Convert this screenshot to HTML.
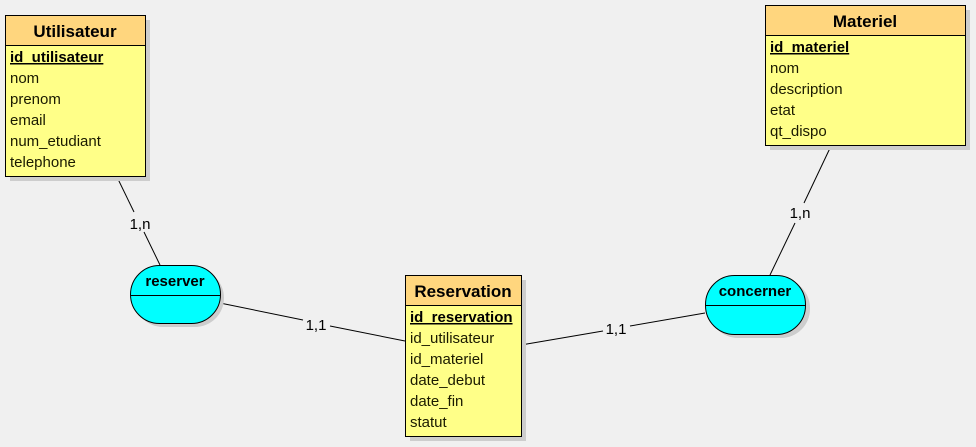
<!DOCTYPE html>
<html><head><style>
body{margin:0;background:#f0f0f0;}
svg{display:block;font-family:"Liberation Sans",sans-serif;}
.t{font-weight:bold;font-size:17px;text-anchor:middle;fill:#000}
.a{font-size:15px;fill:#1a1a00}
.k{font-size:15px;font-weight:bold;text-decoration:underline;fill:#000}
.l{font-size:15px;fill:#000;text-anchor:middle}
.r{font-weight:bold;font-size:15px;text-anchor:middle;fill:#000}
</style></head><body>
<svg width="976" height="447" viewBox="0 0 976 447">
<rect width="976" height="447" fill="#f0f0f0"/>
<g stroke="#000" stroke-width="1">
<line x1="117" y1="177" x2="134" y2="212"/><line x1="144" y1="232" x2="160" y2="265"/>
<line x1="220" y1="303" x2="303" y2="320"/><line x1="330" y1="326" x2="405" y2="341"/>
<line x1="521" y1="345" x2="603" y2="331"/><line x1="630" y1="326" x2="705" y2="313"/>
<line x1="831" y1="146" x2="804" y2="203"/><line x1="795" y1="223" x2="770" y2="275"/>
</g>
<text class="l" x="140" y="229">1,n</text>
<text class="l" x="316" y="330">1,1</text>
<text class="l" x="616" y="334">1,1</text>
<text class="l" x="800" y="218">1,n</text>
<!-- Utilisateur -->
<rect x="10" y="20" width="140" height="161" fill="#cdcdcd"/>
<rect x="5.5" y="15.5" width="140" height="161" fill="#ffff88" stroke="#000"/>
<rect x="5.5" y="15.5" width="140" height="30" fill="#ffd67e" stroke="#000"/>
<text class="t" x="75" y="37">Utilisateur</text>
<text class="k" x="10" y="62">id_utilisateur</text>
<text class="a" x="10" y="83">nom</text>
<text class="a" x="10" y="104">prenom</text>
<text class="a" x="10" y="125">email</text>
<text class="a" x="10" y="146">num_etudiant</text>
<text class="a" x="10" y="167">telephone</text>
<!-- Reservation -->
<rect x="410" y="280" width="116" height="161" fill="#cdcdcd"/>
<rect x="405.5" y="275.5" width="116" height="161" fill="#ffff88" stroke="#000"/>
<rect x="405.5" y="275.5" width="116" height="30" fill="#ffd67e" stroke="#000"/>
<text class="t" x="463" y="297">Reservation</text>
<text class="k" x="410" y="322">id_reservation</text>
<text class="a" x="410" y="343">id_utilisateur</text>
<text class="a" x="410" y="364">id_materiel</text>
<text class="a" x="410" y="385">date_debut</text>
<text class="a" x="410" y="406">date_fin</text>
<text class="a" x="410" y="427">statut</text>
<!-- Materiel -->
<rect x="770" y="10" width="200" height="140" fill="#cdcdcd"/>
<rect x="765.5" y="5.5" width="200" height="140" fill="#ffff88" stroke="#000"/>
<rect x="765.5" y="5.5" width="200" height="30" fill="#ffd67e" stroke="#000"/>
<text class="t" x="865" y="27">Materiel</text>
<text class="k" x="770" y="52">id_materiel</text>
<text class="a" x="770" y="73">nom</text>
<text class="a" x="770" y="94">description</text>
<text class="a" x="770" y="115">etat</text>
<text class="a" x="770" y="136">qt_dispo</text>
<!-- reserver -->
<rect x="134" y="269" width="90" height="58" rx="29" fill="#cdcdcd"/>
<rect x="130.5" y="265.5" width="90" height="58" rx="29" fill="#00ffff" stroke="#000"/>
<line x1="131" y1="295.5" x2="220" y2="295.5" stroke="#000"/>
<text class="r" x="175" y="286">reserver</text>
<!-- concerner -->
<rect x="709" y="279" width="101" height="59" rx="29" fill="#cdcdcd"/>
<rect x="705.5" y="275.5" width="100" height="59" rx="29" fill="#00ffff" stroke="#000"/>
<line x1="706" y1="305.5" x2="805" y2="305.5" stroke="#000"/>
<text class="r" x="755" y="296">concerner</text>
</svg>
</body></html>
